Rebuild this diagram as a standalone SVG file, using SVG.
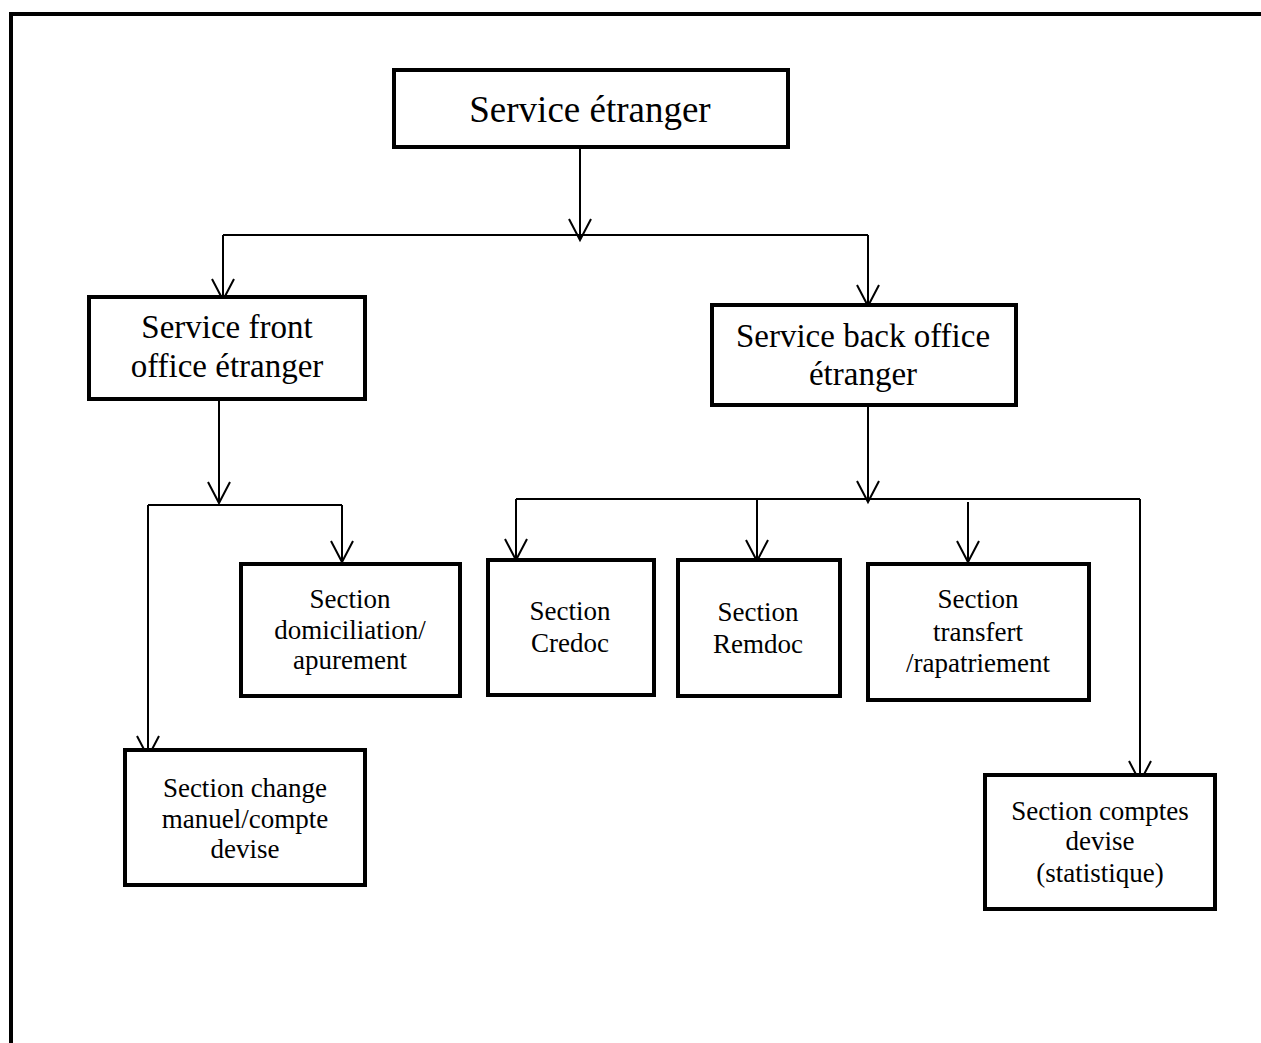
<svg xmlns="http://www.w3.org/2000/svg" width="1261" height="1043" viewBox="0 0 1261 1043">
<style>
.box{fill:#fff;stroke:#000;stroke-width:4}
.t{font-family:"Liberation Serif","Times New Roman",serif;fill:#000;text-anchor:middle}
.l{font-size:37px}
.m{font-size:33px}
.s{font-size:27px}
.c{fill:none;stroke:#000;stroke-width:2}
</style>
<defs>
<marker id="arr" markerUnits="userSpaceOnUse" markerWidth="30" markerHeight="30" viewBox="-25 -15 30 30" refX="0" refY="0" orient="auto" overflow="visible">
<path d="M-21,-11 L0,0 L-21,11" fill="none" stroke="#000" stroke-width="2"/>
</marker>
</defs>
<rect width="1261" height="1043" fill="#fff"/>
<path d="M11,1043 V14 H1261" fill="none" stroke="#000" stroke-width="4"/>
<g id="connectors">
<path class="c" d="M580,140 V240" marker-end="url(#arr)"/>
<path class="c" d="M223,235 H868"/>
<path class="c" d="M223,235 V300" marker-end="url(#arr)"/>
<path class="c" d="M868,235 V306" marker-end="url(#arr)"/>
<path class="c" d="M219,393 V503" marker-end="url(#arr)"/>
<path class="c" d="M148,505 H342"/>
<path class="c" d="M342,505 V562" marker-end="url(#arr)"/>
<path class="c" d="M148,505 V757" marker-end="url(#arr)"/>
<path class="c" d="M868,407 V502" marker-end="url(#arr)"/>
<path class="c" d="M516,499 H1140"/>
<path class="c" d="M516,499 V560" marker-end="url(#arr)"/>
<path class="c" d="M757,499 V561" marker-end="url(#arr)"/>
<path class="c" d="M968,502 V562" marker-end="url(#arr)"/>
<path class="c" d="M1140,499 V782" marker-end="url(#arr)"/>
</g>
<g id="n-service-etranger">
<rect class="box" x="394" y="70" width="394" height="77"/>
<text class="t l" x="590" y="122">Service étranger</text>
</g>
<g id="n-front-office">
<rect class="box" x="89" y="297" width="276" height="102"/>
<text class="t m" x="227" y="338">Service front</text>
<text class="t m" x="227" y="377">office étranger</text>
</g>
<g id="n-back-office">
<rect class="box" x="712" y="305" width="304" height="100"/>
<text class="t m" x="863" y="347">Service back office</text>
<text class="t m" x="863" y="385">étranger</text>
</g>
<g id="n-domiciliation">
<rect class="box" x="241" y="564" width="219" height="132"/>
<text class="t s" x="350" y="608">Section</text>
<text class="t s" x="350" y="639">domiciliation/</text>
<text class="t s" x="350" y="669">apurement</text>
</g>
<g id="n-credoc">
<rect class="box" x="488" y="560" width="166" height="135"/>
<text class="t s" x="570" y="620">Section</text>
<text class="t s" x="570" y="652">Credoc</text>
</g>
<g id="n-remdoc">
<rect class="box" x="678" y="560" width="162" height="136"/>
<text class="t s" x="758" y="621">Section</text>
<text class="t s" x="758" y="653">Remdoc</text>
</g>
<g id="n-transfert">
<rect class="box" x="868" y="564" width="221" height="136"/>
<text class="t s" x="978" y="608">Section</text>
<text class="t s" x="978" y="641">transfert</text>
<text class="t s" x="978" y="672">/rapatriement</text>
</g>
<g id="n-change">
<rect class="box" x="125" y="750" width="240" height="135"/>
<text class="t s" x="245" y="797">Section change</text>
<text class="t s" x="245" y="828">manuel/compte</text>
<text class="t s" x="245" y="858">devise</text>
</g>
<g id="n-comptes">
<rect class="box" x="985" y="775" width="230" height="134"/>
<text class="t s" x="1100" y="820">Section comptes</text>
<text class="t s" x="1100" y="850">devise</text>
<text class="t s" x="1100" y="882">(statistique)</text>
</g>
</svg>
